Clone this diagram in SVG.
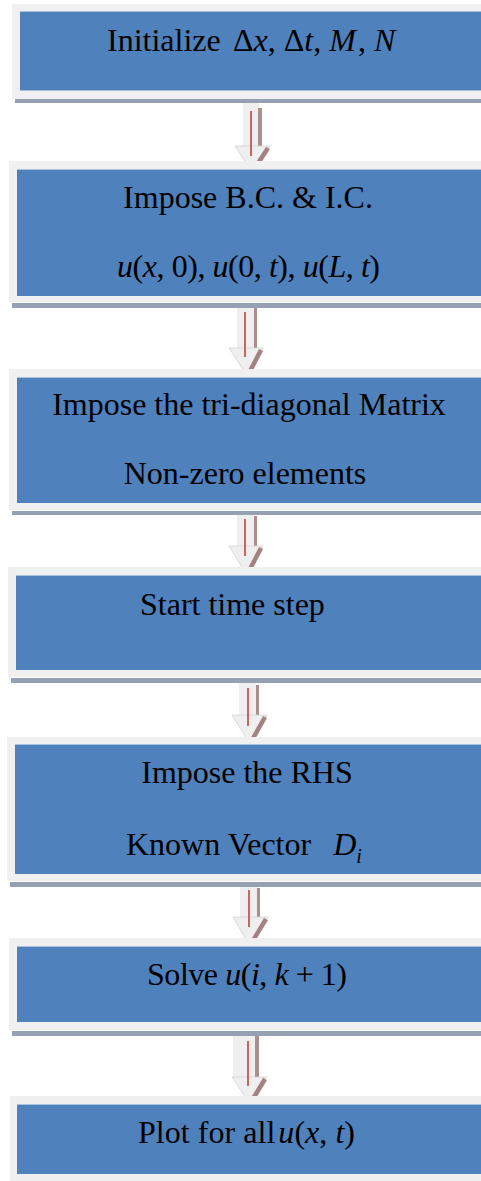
<svg xmlns="http://www.w3.org/2000/svg" width="481" height="1181" viewBox="0 0 481 1181">
<style>
.frame{fill:#f0f0f0}
.inner{fill:#4f81bd}
.edge{fill:#a9c0de}
.shadow{fill:#95a1b2}
.t{font-family:"Liberation Serif","Times New Roman",serif;font-size:32px;fill:#000}
.i{font-style:italic}
.shaft{fill:#efefef}
.head{fill:#efefef;stroke:#d6d0d0;stroke-width:0.8}
.brown{fill:#ac8e8e}
.brownl{stroke:#a38282;stroke-width:4.5;fill:none}
.red{stroke:#c0392b;stroke-width:1.5;fill:none}
</style>
<rect width="481" height="1181" fill="#ffffff"/>
<g id="connectors">
  <g id="a1">
    <rect class="shaft" x="243" y="103" width="16" height="44"/>
    <rect class="brown" x="258" y="108" width="4" height="38"/>
    <polygon class="head" points="235,146 270,146 252,172"/>
    <line class="brownl" x1="268" y1="148" x2="253" y2="171"/>
    <line class="red" x1="251" y1="111" x2="251" y2="156"/>
  </g>
  <g id="a2">
    <rect class="shaft" x="237" y="303" width="17" height="46"/>
    <rect class="brown" x="254" y="308" width="3" height="40"/>
    <polygon class="head" points="229,348 263,348 248,377"/>
    <line class="brownl" x1="261" y1="350" x2="248" y2="375"/>
    <line class="red" x1="245" y1="312" x2="245" y2="357"/>
  </g>
  <g id="a3">
    <rect class="shaft" x="237" y="514" width="17" height="33"/>
    <rect class="brown" x="254" y="516" width="3" height="30"/>
    <polygon class="head" points="229,546 263,546 247,575"/>
    <line class="brownl" x1="261" y1="548" x2="248" y2="573"/>
    <line class="red" x1="245" y1="519" x2="245" y2="556"/>
  </g>
  <g id="a4">
    <rect class="shaft" x="239" y="682" width="17" height="34"/>
    <rect class="brown" x="256" y="685" width="3" height="30"/>
    <polygon class="head" points="232,715 267,715 250,744"/>
    <line class="brownl" x1="265" y1="717" x2="251" y2="742"/>
    <line class="red" x1="248" y1="688" x2="248" y2="726"/>
  </g>
  <g id="a5">
    <rect class="shaft" x="240" y="886" width="17" height="32"/>
    <rect class="brown" x="257" y="888" width="3" height="29"/>
    <polygon class="head" points="233,917 268,917 250,946"/>
    <line class="brownl" x1="266" y1="919" x2="251" y2="944"/>
    <line class="red" x1="249" y1="890" x2="249" y2="927"/>
  </g>
  <g id="a6">
    <rect class="shaft" x="233" y="1034" width="22" height="44"/>
    <rect class="brown" x="255" y="1036" width="4" height="41"/>
    <polygon class="head" points="232,1077 267,1077 250,1104"/>
    <line class="brownl" x1="265" y1="1079" x2="251" y2="1102"/>
    <line class="red" x1="248" y1="1041" x2="248" y2="1086"/>
  </g>
</g>
<g id="n1">
  <rect class="shadow" x="15" y="99" width="470" height="4"/>
  <rect class="frame" x="12" y="4" width="475" height="95"/>
  <rect class="edge" x="20" y="11" width="470" height="80"/>
  <rect class="inner" x="20" y="12" width="470" height="78"/>
  <text class="t" x="107" y="51">Initialize<tspan x="233">Δ</tspan><tspan class="i">x</tspan>, Δ<tspan class="i">t</tspan>, <tspan class="i">M</tspan><tspan dx="2">,</tspan> <tspan class="i">N</tspan></text>
</g>
<g id="n2">
  <rect class="shadow" x="12" y="303" width="475" height="5"/>
  <rect class="frame" x="9" y="161" width="478" height="141"/>
  <rect class="edge" x="17" y="169" width="470" height="127"/>
  <rect class="inner" x="17" y="170" width="470" height="126"/>
  <text class="t" x="248" y="208" text-anchor="middle">Impose B.C. &amp; I.C.</text>
  <text class="t" x="117" y="277" textLength="263" lengthAdjust="spacing"><tspan class="i">u</tspan>(<tspan class="i">x</tspan>, 0), <tspan class="i">u</tspan>(0, <tspan class="i">t</tspan>), <tspan class="i">u</tspan>(<tspan class="i">L</tspan>, <tspan class="i">t</tspan>)</text>
</g>
<g id="n3">
  <rect class="shadow" x="12" y="511" width="475" height="4"/>
  <rect class="frame" x="9" y="369" width="478" height="141"/>
  <rect class="edge" x="17" y="377" width="470" height="126"/>
  <rect class="inner" x="17" y="378" width="470" height="125"/>
  <text class="t" x="249" y="415" text-anchor="middle">Impose the tri-diagonal Matrix</text>
  <text class="t" x="245" y="484" text-anchor="middle">Non-zero elements</text>
</g>
<g id="n4">
  <rect class="shadow" x="11" y="678" width="476" height="5"/>
  <rect class="frame" x="8" y="567" width="479" height="110"/>
  <rect class="edge" x="16" y="575" width="471" height="95"/>
  <rect class="inner" x="16" y="576" width="471" height="94"/>
  <text class="t" x="140" y="615">Start time step</text>
</g>
<g id="n5">
  <rect class="shadow" x="10" y="882" width="477" height="5"/>
  <rect class="frame" x="7" y="737" width="480" height="144"/>
  <rect class="edge" x="15" y="744" width="472" height="130"/>
  <rect class="inner" x="15" y="745" width="472" height="129"/>
  <text class="t" x="247" y="783" text-anchor="middle">Impose the RHS</text>
  <text class="t" x="126" y="855">Known Vector <tspan dx="14" class="i">D</tspan><tspan class="i" font-size="20" dy="8">i</tspan></text>
</g>
<g id="n6">
  <rect class="shadow" x="12" y="1031" width="475" height="5"/>
  <rect class="frame" x="9" y="938" width="478" height="92"/>
  <rect class="edge" x="17" y="946" width="470" height="76"/>
  <rect class="inner" x="17" y="947" width="470" height="75"/>
  <text class="t" x="147" y="985" textLength="200" lengthAdjust="spacing">Solve <tspan class="i">u</tspan>(<tspan class="i">i</tspan>, <tspan class="i">k</tspan> + 1)</text>
</g>
<g id="n7">
  <rect class="frame" x="10" y="1096" width="477" height="90"/>
  <rect class="edge" x="17" y="1104" width="470" height="70"/>
  <rect class="inner" x="17" y="1105" width="470" height="69"/>
  <text class="t" x="138" y="1143" textLength="217" lengthAdjust="spacing">Plot for all<tspan class="i" dx="3">u</tspan>(<tspan class="i">x</tspan>, <tspan class="i">t</tspan>)</text>
</g>
</svg>
